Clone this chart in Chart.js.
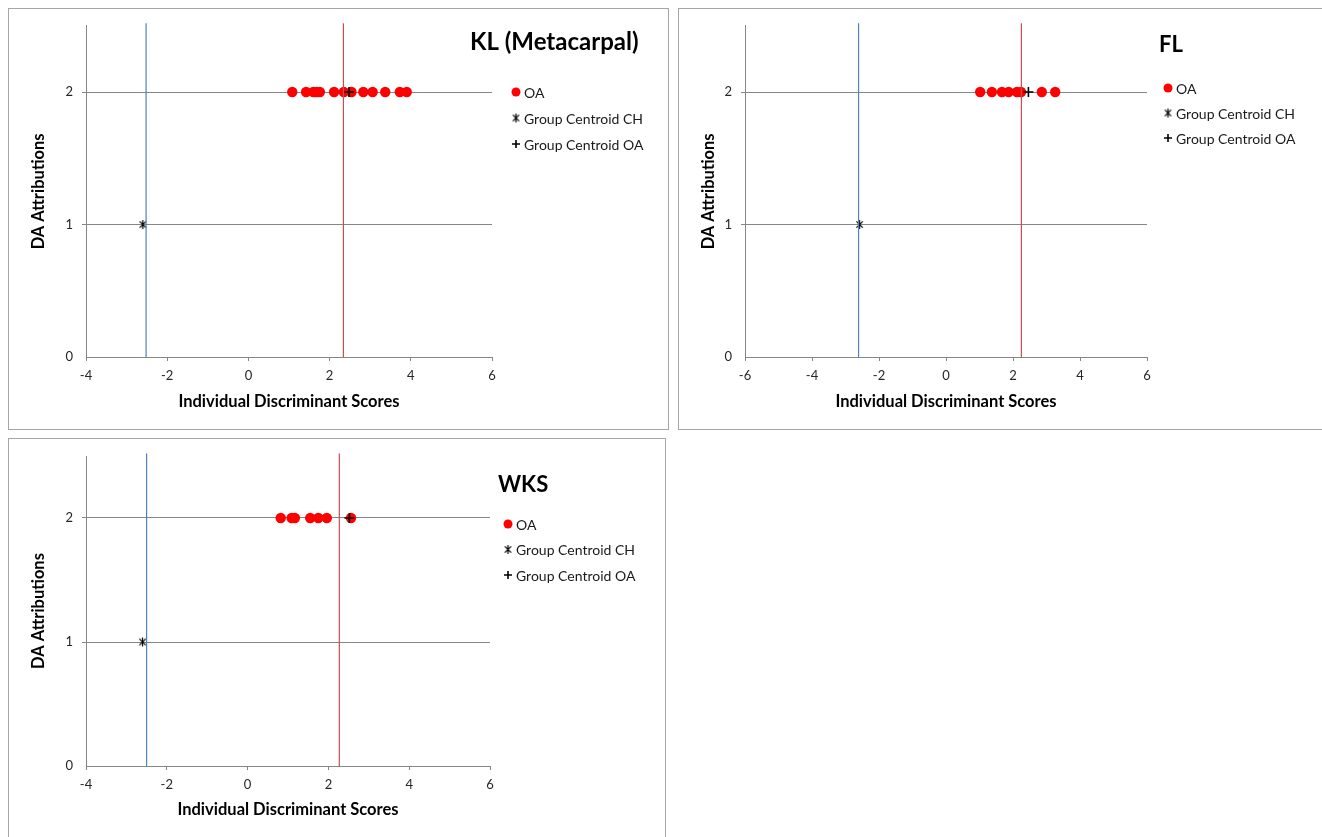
<!DOCTYPE html>
<html>
<head>
<meta charset="utf-8">
<script src="https://cdn.jsdelivr.net/npm/chart.js@4.4.1/dist/chart.umd.min.js"></script>
<style>
  body { margin: 0; background: #fff; width: 1322px; height: 837px; overflow: hidden; position: relative; }
  .panel { position: absolute; border: 1px solid #a6a6a6; background: #fff; }
  .panel canvas { display: block; }
</style>
</head>
<body>
<div class="panel" style="left:8px; top:8px;"><canvas id="klChart" width="659" height="420"></canvas></div>
<div class="panel" style="left:678px; top:8px;"><canvas id="flChart" width="650" height="420"></canvas></div>
<div class="panel" style="left:8px; top:438px;"><canvas id="wksChart" width="656" height="410"></canvas></div>

<script>
// DA attribution groups (y value)
const groupOA = 2;
const groupCH = 1;

// KL (Metacarpal)
const klScoresOA = [1.08, 1.42, 1.60, 1.68, 1.76, 2.11, 2.35, 2.54, 2.83, 3.06, 3.37, 3.73, 3.90];
const klCentroids = [-2.60, 2.48];   // CH, OA
const klCutoffs = [-2.52, 2.34];     // blue, red

// FL
const flScoresOA = [1.02, 1.37, 1.67, 1.87, 2.12, 2.24, 2.86, 3.26];
const flCentroids = [-2.58, 2.46];
const flCutoffs = [-2.61, 2.25];

// WKS
const wksScoresOA = [0.82, 1.09, 1.17, 1.55, 1.75, 1.96, 2.56];
const wksCentroids = [-2.60, 2.52];
const wksCutoffs = [-2.50, 2.27];

const legendLabels = ['OA', 'Group Centroid CH', 'Group Centroid OA'];
const yTicks = [0, 1, 2];

const FONT = 'Lato, "Open Sans", sans-serif';
const AXIS_GREY = '#868686';

// Excel style "star" marker: an X with a vertical bar through it
function starMarker(size) {
  const c = document.createElement('canvas');
  c.width = size; c.height = size;
  const g = c.getContext('2d');
  const h = size / 2, r = size / 2 - 1;
  g.strokeStyle = '#000';
  g.lineWidth = 1.2;
  g.beginPath();
  g.moveTo(h - r * 0.7, h - r * 0.7); g.lineTo(h + r * 0.7, h + r * 0.7);
  g.moveTo(h + r * 0.7, h - r * 0.7); g.lineTo(h - r * 0.7, h + r * 0.7);
  g.moveTo(h, h - r); g.lineTo(h, h + r);
  g.stroke();
  return c;
}
const chMarker = starMarker(11);

// draws the panel title and the legend (marker + label) inside the canvas
const panelDecor = {
  id: 'panelDecor',
  afterDraw(chart, args, opts) {
    const ctx = chart.ctx;
    ctx.save();
    ctx.textBaseline = 'middle';
    ctx.textAlign = 'left';
    ctx.fillStyle = '#000';
    ctx.font = 'bold ' + opts.titleSize + 'px ' + FONT;
    ctx.fillText(opts.title, opts.titleX, opts.titleY);

    ctx.font = '14px ' + FONT;
    let y = opts.legendY;
    legendLabels.forEach(name => {
      const ds = chart.data.datasets.find(d => d.label === name);
      if (!ds) return;
      ctx.fillStyle = ds.backgroundColor;
      ctx.strokeStyle = ds.borderColor;
      ctx.lineWidth = ds.borderWidth;
      Chart.helpers.drawPoint(ctx, {
        pointStyle: ds.pointStyle,
        radius: ds.pointStyle === 'circle' ? 4.5 : 4,
        rotation: 0,
        borderWidth: ds.borderWidth
      }, opts.legendX, y);
      ctx.fillStyle = '#1a1a1a';
      ctx.fillText(ds.label, opts.legendX + 8, y + 1);
      y += opts.legendGap;
    });
    ctx.restore();
  }
};

function makePanel(id, cfg) {
  const yLine = [0, 2.52];
  new Chart(document.getElementById(id), {
    type: 'scatter',
    data: {
      datasets: [
        {
          label: legendLabels[2],
          data: [{ x: cfg.centroids[1], y: groupOA }],
          pointStyle: 'cross',
          pointRadius: 5,
          borderColor: '#000',
          backgroundColor: '#000',
          borderWidth: 1.6
        },
        {
          label: 'cut CH',
          data: yLine.map(v => ({ x: cfg.cutoffs[0], y: v })),
          showLine: true,
          pointRadius: 0,
          borderColor: '#4f81bd',
          borderWidth: 1.2,
          clip: false
        },
        {
          label: 'cut OA',
          data: yLine.map(v => ({ x: cfg.cutoffs[1], y: v })),
          showLine: true,
          pointRadius: 0,
          borderColor: '#c4504d',
          borderWidth: 1.2,
          clip: false
        },
        {
          label: legendLabels[1],
          data: [{ x: cfg.centroids[0], y: groupCH }],
          pointStyle: chMarker,
          pointRadius: 5,
          borderColor: '#000',
          backgroundColor: '#000',
          borderWidth: 1.2
        },
        {
          label: legendLabels[0],
          data: cfg.scores.map(v => ({ x: v, y: groupOA })),
          pointStyle: 'circle',
          pointRadius: 5.2,
          borderWidth: 0,
          borderColor: '#ff0000',
          backgroundColor: '#ff0000'
        }
      ]
    },
    options: {
      responsive: false,
      animation: false,
      events: [],
      layout: { padding: { left: 0, top: cfg.top, right: cfg.right, bottom: 0 } },
      scales: {
        x: {
          type: 'linear',
          min: cfg.xMin,
          max: 6,
          afterFit: s => { s.height = cfg.xHeight; },
          ticks: { stepSize: 2, padding: 7, color: '#262626', font: { family: FONT, size: 13 } },
          grid: { drawOnChartArea: false, drawTicks: true, tickLength: 4, color: AXIS_GREY },
          border: { color: AXIS_GREY },
          title: {
            display: true,
            text: 'Individual Discriminant Scores',
            color: '#000',
            font: { family: FONT, size: 16.5, weight: 'bold' },
            padding: { top: 0, bottom: cfg.xTitlePad }
          }
        },
        y: {
          type: 'linear',
          min: 0,
          max: 2.5,
          afterFit: s => { s.width = cfg.yWidth; },
          afterBuildTicks: s => { s.ticks = yTicks.map(v => ({ value: v })); },
          ticks: { padding: 9, color: '#262626', font: { family: FONT, size: 13 } },
          grid: {
            drawTicks: true,
            tickLength: 4,
            color: ctx => (ctx.tick && ctx.tick.value === 0 ? 'rgba(0,0,0,0)' : AXIS_GREY)
          },
          border: { color: AXIS_GREY },
          title: {
            display: true,
            text: 'DA Attributions',
            color: '#000',
            font: { family: FONT, size: 16.5, weight: 'bold' },
            padding: { top: cfg.yTitlePad, bottom: 0 }
          }
        }
      },
      plugins: {
        legend: { display: false },
        tooltip: { enabled: false },
        panelDecor: cfg.decor
      }
    },
    plugins: [panelDecor]
  });
}

makePanel('klChart', {
  scores: klScoresOA, centroids: klCentroids, cutoffs: klCutoffs,
  xMin: -4, top: 16, right: 176, xHeight: 72, yWidth: 77, xTitlePad: 17, yTitlePad: 20,
  decor: { title: 'KL (Metacarpal)', titleSize: 24, titleX: 461, titleY: 33, legendX: 507, legendY: 83, legendGap: 26 }
});

makePanel('flChart', {
  scores: flScoresOA, centroids: flCentroids, cutoffs: flCutoffs,
  xMin: -6, top: 16, right: 182, xHeight: 72, yWidth: 66, xTitlePad: 17, yTitlePad: 20,
  decor: { title: 'FL', titleSize: 22, titleX: 480, titleY: 36, legendX: 489, legendY: 79, legendGap: 25 }
});

makePanel('wksChart', {
  scores: wksScoresOA, centroids: wksCentroids, cutoffs: wksCutoffs,
  xMin: -4, top: 17, right: 175, xHeight: 83, yWidth: 77, xTitlePad: 29, yTitlePad: 20,
  decor: { title: 'WKS', titleSize: 22, titleX: 489, titleY: 46, legendX: 499, legendY: 85, legendGap: 25.5 }
});
</script>
</body>
</html>
